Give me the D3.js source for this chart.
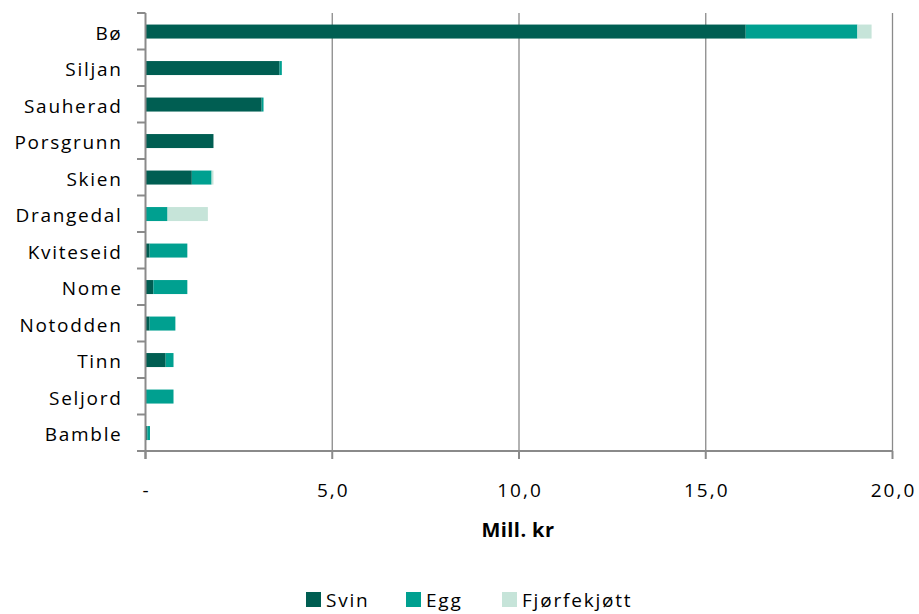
<!DOCTYPE html>
<html><head><meta charset="utf-8">
<script src="https://cdn.jsdelivr.net/npm/d3@7"></script>
<style>body{margin:0;background:#fff} svg text{font-family:"Open Sans",sans-serif;fill:#000}</style>
</head><body><svg id="c" width="919" height="614"></svg>
<script>
const categories = ["Bø","Siljan","Sauherad","Porsgrunn","Skien","Drangedal","Kviteseid","Nome","Notodden","Tinn","Seljord","Bamble"];
const svin   = [16.07,3.59,3.11,1.82,1.24,0,0.11,0.21,0.11,0.54,0,0.05];
const egg    = [2.99,0.06,0.05,0,0.53,0.59,1.01,0.91,0.69,0.21,0.75,0.07];
const fjorfe = [0.38,0,0,0,0.05,1.08,0,0,0,0,0,0];
const seriesNames = ["Svin","Egg","Fjørfekjøtt"];
const xTicks = [0,5,10,15,20];
const axisTitle = "Mill. kr";

const colors = ["#005e52","#00a090","#c6e4d9"];
const svg = d3.select("#c");
const x = d3.scaleLinear().domain([0,20]).range([145.5,892.5]);
const y = d3.scaleBand().domain(categories).range([13,451]).padding(0);
const barH = 14;

const rows = categories.map((c,i)=>({cat:c,Svin:svin[i],Egg:egg[i],"Fjørfekjøtt":fjorfe[i]}));
const stacked = d3.stack().keys(seriesNames)(rows);

const grid = "#8a8a8a";
// gridlines
svg.append("g").selectAll("line").data(xTicks.filter(t=>t>0)).join("line")
  .attr("x1",d=>x(d)).attr("x2",d=>x(d)).attr("y1",13).attr("y2",451)
  .attr("stroke",grid).attr("stroke-width",1.3);

// bars
svg.append("g").selectAll("g").data(stacked).join("g")
  .attr("fill",(d,i)=>colors[i])
  .selectAll("rect").data(d=>d.filter(s=>s[1]-s[0]>0)).join("rect")
  .attr("x",d=>x(d[0])).attr("width",d=>x(d[1])-x(d[0]))
  .attr("y",d=>y(d.data.cat)+y.bandwidth()/2-barH/2+0.3).attr("height",barH);

// y axis
const yEdges = categories.map(c=>y(c)).concat([y.range()[1]]);
svg.append("line").attr("x1",x(0)).attr("x2",x(0)).attr("y1",13).attr("y2",459).attr("stroke",grid).attr("stroke-width",2);
svg.append("g").selectAll("line").data(yEdges).join("line")
  .attr("x1",137).attr("x2",x(0)).attr("y1",d=>d).attr("y2",d=>d).attr("stroke",grid).attr("stroke-width",2);
// x axis
svg.append("line").attr("x1",137).attr("x2",x(20)).attr("y1",451).attr("y2",451).attr("stroke",grid).attr("stroke-width",2);
svg.append("g").selectAll("line").data(xTicks).join("line")
  .attr("x1",d=>x(d)).attr("x2",d=>x(d)).attr("y1",451).attr("y2",459).attr("stroke",grid).attr("stroke-width",2);

const fmt = d3.formatLocale({decimal:",",thousands:" ",grouping:[3],currency:["","kr"]}).format(".1f");
svg.append("g").selectAll("text").data(xTicks).join("text")
  .attr("x",d=>x(d)+1).attr("y",497).attr("text-anchor","middle")
  .style("font-size","19px").style("letter-spacing","2px")
  .text(d=>d===0?"-":fmt(d));

svg.append("g").selectAll("text").data(categories).join("text")
  .attr("x",122.5).attr("y",d=>y(d)+y.bandwidth()/2+8.5).attr("text-anchor","end")
  .style("font-size","19px").style("letter-spacing","1.7px")
  .text(d=>d);

svg.append("text").attr("x",518).attr("y",537).attr("text-anchor","middle")
  .style("font-size","20px").style("font-weight","bold").style("letter-spacing","0.4px").text(axisTitle);

// legend
const legX = [306,406,502];
const lg = svg.append("g").selectAll("g").data(seriesNames).join("g")
  .attr("transform",(d,i)=>`translate(${legX[i]},592)`);
lg.append("rect").attr("width",15).attr("height",15).attr("fill",(d,i)=>colors[i]);
lg.append("text").attr("x",20).attr("y",15).style("font-size","19px").style("letter-spacing","1.8px").text(d=>d);
</script></body></html>
